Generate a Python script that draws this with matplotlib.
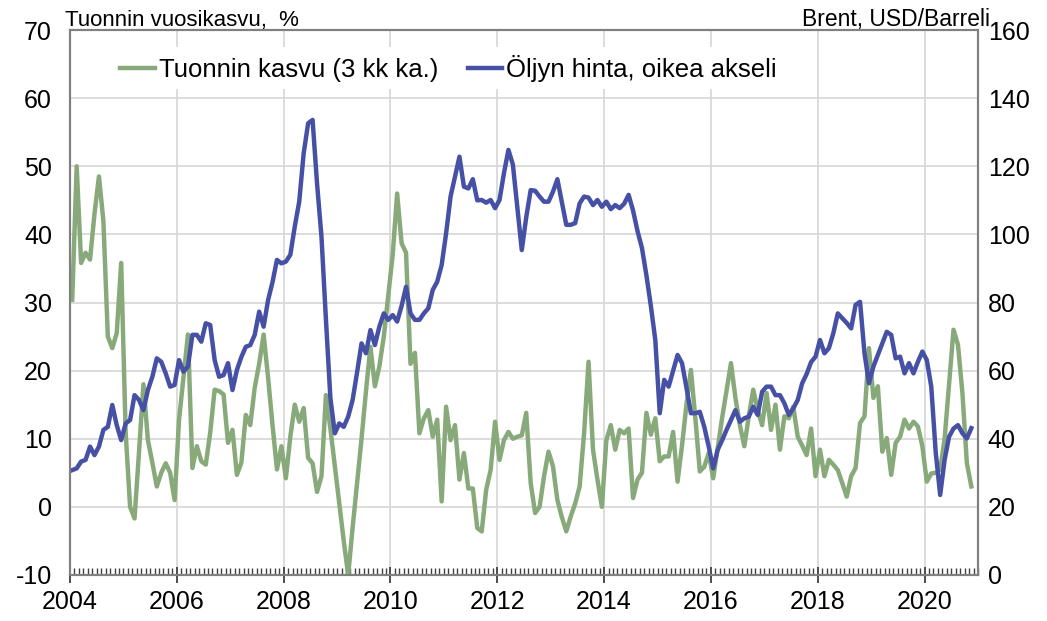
import numpy as np
import matplotlib
matplotlib.use("Agg")
import matplotlib.pyplot as plt

plt.rcParams['font.family'] = ['Liberation Sans', 'DejaVu Sans']
plt.rcParams['axes.unicode_minus'] = False

# Monthly data, Jan 2004 - Nov 2020
start_year = 2004
import_growth = [  # Tuonnin kasvu (3 kk ka.), %
    30.4, 50, 35.8, 37.3, 36.3, 43, 48.5, 42, 25, 23.3, 25.5, 35.8,      # 2004
    11, 0, -1.7, 8, 18, 9.8, 6.5, 3, 5, 6.4, 5, 1,                      # 2005
    12.8, 19, 25.3, 5.7, 8.9, 6.7, 6.2, 10.9, 17.2, 17, 16.5, 9.4,      # 2006
    11.3, 4.7, 6.5, 13.5, 12, 17.5, 21, 25.3, 19, 12, 5.5, 8.9,         # 2007
    4.2, 10.3, 15, 12.5, 14.5, 7.2, 6.4, 2.2, 4.5, 16.4, 11.5, 6,       # 2008
    0.5, -5, -10, -3, 3.5, 10, 17, 23.5, 17.7, 20.6, 25, 31,            # 2009
    37, 46, 38.7, 37.3, 21, 22.6, 10.8, 13, 14.2, 10.3, 12.8, 0.8,      # 2010
    14.7, 9.8, 12, 4, 7.9, 2.7, 2.7, -3.1, -3.6, 2.5, 5.4, 12.5,        # 2011
    6.9, 9.8, 11, 10, 10.3, 10.5, 13.8, 3.5, -0.9, 0, 4.5, 8.1,         # 2012
    6, 1, -1.5, -3.6, -1.4, 0.5, 3, 10.8, 21.3, 8.4, 4, 0,              # 2013
    9.8, 12, 8.4, 11.3, 10.8, 11.5, 1.3, 4, 5, 13.8, 10.6, 13,          # 2014
    6.7, 7.4, 7.4, 11, 3.7, 9, 15, 20.1, 13, 5.2, 5.9, 7.9,             # 2015
    4.2, 8.5, 13, 17, 21.1, 16, 12, 8.9, 13.3, 17.2, 14.2, 12,          # 2016
    16.7, 11.3, 15, 8.4, 13.3, 13, 14.7, 10.3, 9, 7.6, 11.5, 4.5,       # 2017
    8.4, 4.5, 6.9, 6.2, 5.4, 3.5, 1.5, 4.5, 5.7, 12.3, 13.3, 23.3,      # 2018
    16, 17.7, 8.1, 10.1, 4.7, 9.4, 10.3, 12.8, 11.5, 12.5, 11.8, 8.9,   # 2019
    3.7, 4.9, 5, 5.5, 10, 18, 26, 23.8, 16.7, 6.4, 3,                   # 2020
]
oil_price = [  # Brent, USD/Barreli
    30.8, 31.3, 33.3, 33.8, 37.7, 35.2, 37.7, 42.6, 43.5, 49.9, 44, 39.6,
    44.5, 45.5, 52.8, 51.4, 48.4, 54.3, 58.2, 63.6, 62.6, 59.2, 55.3, 55.8,
    63.1, 59.7, 61.2, 70.5, 70.5, 68.5, 73.9, 73.4, 63.1, 58.2, 58.7, 62.2,
    54.3, 60.2, 64, 67, 67.5, 70.5, 77.3, 72.9, 80.7, 86, 92.5, 91.5,
    92, 94, 102.3, 109.6, 123.8, 132.6, 133.6, 115, 99.3, 75, 52, 41.6,
    44.5, 43.5, 46.5, 51.4, 59.5, 68, 65.1, 71.9, 67.5, 72.9, 76.8, 74.9,
    76.3, 74.4, 79, 84.6, 76.8, 74.9, 74.9, 76.8, 78.3, 83.7, 86.1, 91,
    100.3, 111.1, 117, 122.8, 114, 113.5, 116.2, 110, 110.1, 109.3, 110.1, 107.7,
    110.1, 118, 124.8, 120.5, 108, 95.4, 105, 113, 112.8, 111.1, 109.6, 109.6,
    112.5, 116.2, 109.5, 102.8, 102.8, 103.3, 109.1, 111.1, 110.8, 108.6, 110.1, 108.1,
    109.6, 107.4, 108.6, 107.7, 109, 111.6, 107, 101, 96, 88, 79, 69,
    47.5, 57.3, 55.3, 60, 64.6, 62.2, 55, 47.5, 47.5, 47.9, 43.5, 37.7,
    31.3, 36.7, 39.5, 42.6, 45.5, 48.4, 45, 46, 46.5, 49.4, 47, 53.8,
    55.3, 55.3, 52.8, 52.8, 50.4, 47, 48.9, 51.4, 56.3, 59, 62.5, 64.1,
    69, 65.1, 66.6, 71, 76.8, 75.4, 74, 72.4, 79.3, 80.2, 65.1, 56.3,
    61.2, 64.6, 68, 71.4, 70.5, 63.6, 64.1, 59.2, 62.2, 59.2, 62.6, 65.6,
    63.1, 55.3, 36, 23.5, 33.8, 40.6, 43, 44, 41.6, 40.1, 43.1,
]
x_ticks = [2004, 2006, 2008, 2010, 2012, 2014, 2016, 2018, 2020]
left_ticks = [-10, 0, 10, 20, 30, 40, 50, 60, 70]
right_ticks = [0, 20, 40, 60, 80, 100, 120, 140, 160]
label_green = "Tuonnin kasvu (3 kk ka.)"
label_blue = "Öljyn hinta, oikea akseli"
left_title = "Tuonnin vuosikasvu,  %"
right_title = "Brent, USD/Barreli"

GREEN = '#88aa7b'
BLUE = '#4651a5'
GRID = '#d9d9d9'
SPINE = '#808080'

n = len(import_growth)
x = start_year + (np.arange(n) + 0.5) / 12.0

fig = plt.figure(figsize=(10.47, 6.21), dpi=100)
ax = fig.add_axes([70/1047, 46/621, 908/1047, 545/621])
ax2 = ax.twinx()

l1, = ax.plot(x, import_growth, color=GREEN, lw=3.2, solid_joinstyle='round')
l2, = ax2.plot(x, oil_price, color=BLUE, lw=3.2, solid_joinstyle='round')

ax.set_xlim(2004, 2021)
ax.set_ylim(-10, 70)
ax2.set_ylim(0, 160)
ax.set_xticks(x_ticks)
ax.set_xticks(np.arange(2004, 2021 + 1e-9, 1/12.0), minor=True)
ax.set_yticks(left_ticks)
ax2.set_yticks(right_ticks)

ax.grid(True, which='major', color=GRID, lw=1.3)
ax.set_axisbelow(True)

ax.tick_params(axis='x', which='major', direction='inout', length=12, width=1.3,
               color='#404040', labelsize=18, pad=5)
ax.tick_params(axis='x', which='minor', direction='in', length=5, width=1.0,
               color='#404040')
ax.tick_params(axis='y', length=0, labelsize=18, pad=13)
ax2.tick_params(axis='y', length=0, labelsize=18, pad=7)

for a in (ax, ax2):
    for s in a.spines.values():
        s.set_color(SPINE)
        s.set_linewidth(1.5)

leg = ax2.legend([l1, l2], [label_green, label_blue], loc='center',
                 bbox_to_anchor=(0.417, 0.93), ncol=2, frameon=True,
                 fontsize=18.5, handlelength=1.35, handletextpad=0.15,
                 columnspacing=1.15, borderpad=0.3)
leg.get_frame().set_facecolor('white')
leg.get_frame().set_edgecolor('none')
leg.get_frame().set_alpha(1)

fig.text(65/1047, 1 - 26/621, left_title, fontsize=16, ha='left', va='baseline')
fig.text(990/1047, 1 - 26/621, right_title, fontsize=16.5, ha='right', va='baseline')

fig.savefig('out.png', dpi=100)
